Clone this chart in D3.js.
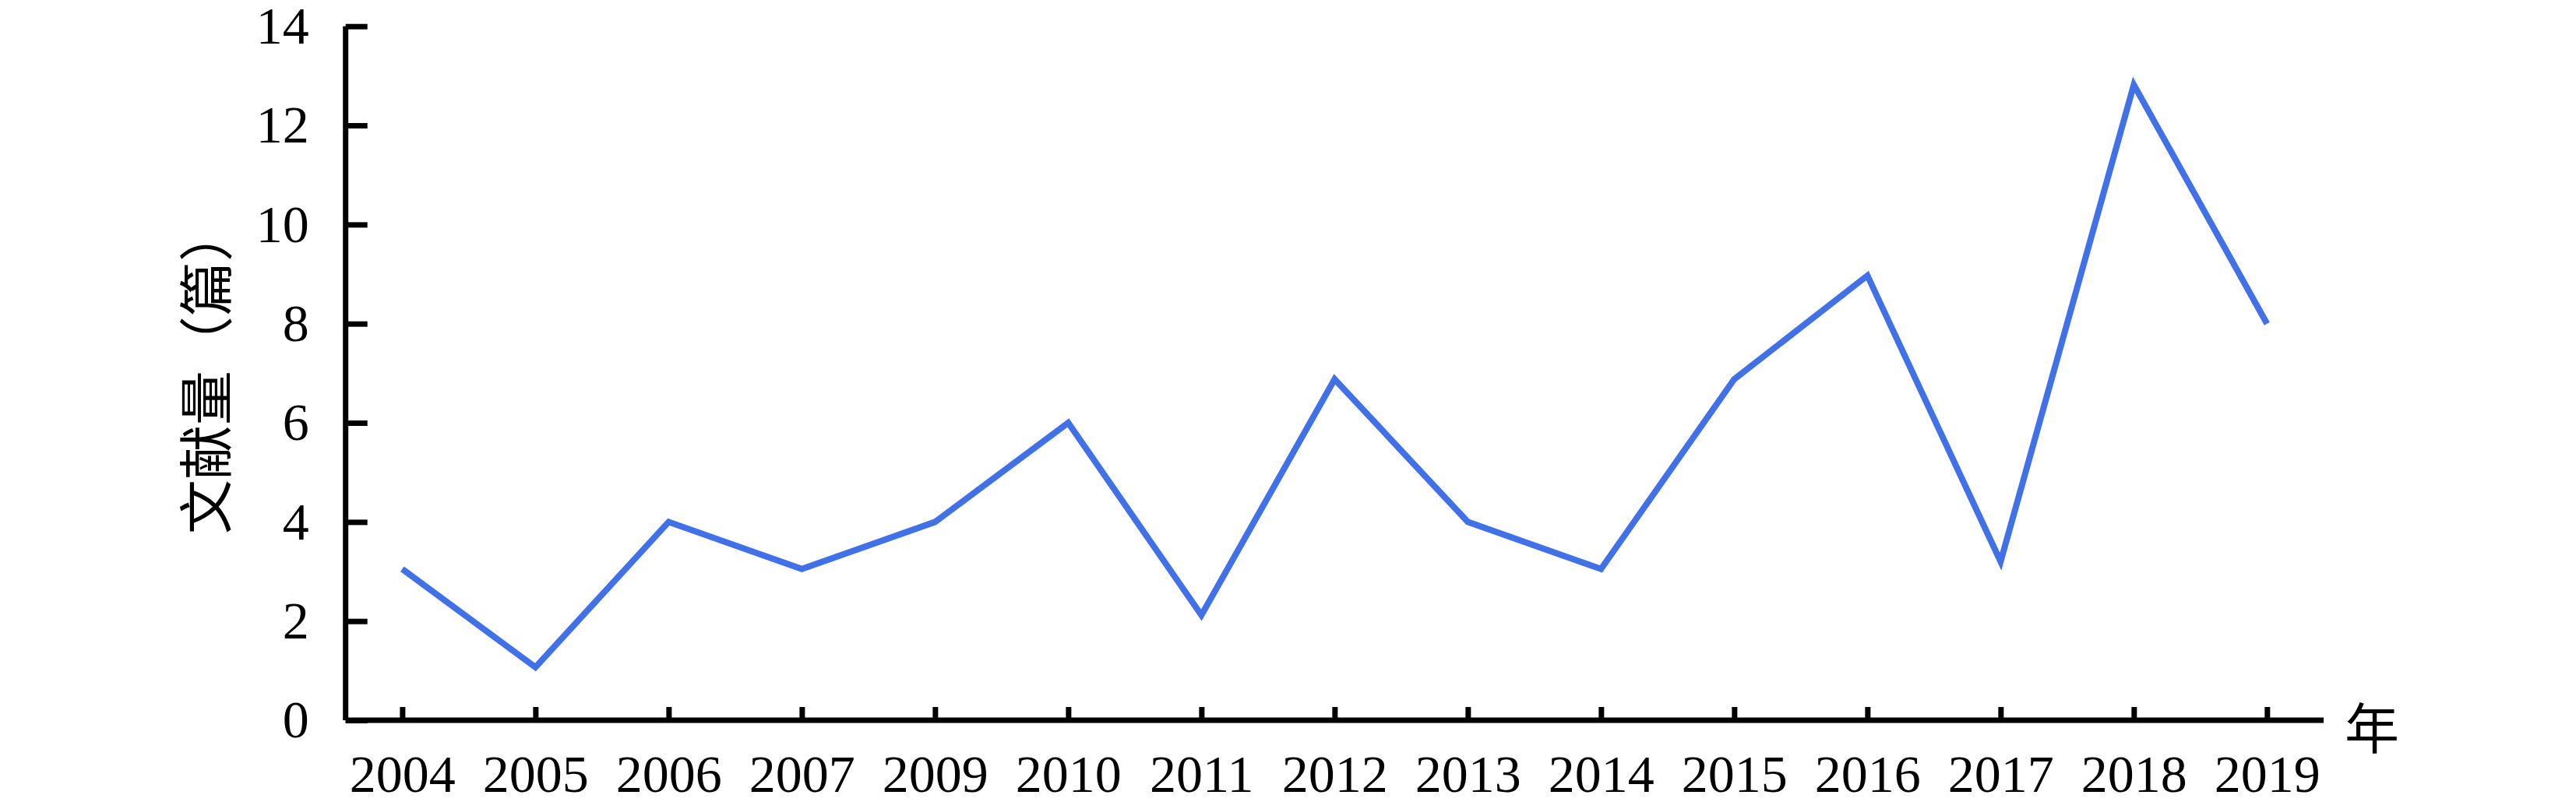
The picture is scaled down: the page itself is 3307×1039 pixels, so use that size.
<!DOCTYPE html>
<html>
<head>
<meta charset="utf-8">
<script src="https://cdn.jsdelivr.net/npm/d3@7"></script>
<style>
  html, body { margin: 0; padding: 0; background: #ffffff; }
  svg { display: block; }
</style>
</head>
<body>
<script>
// ---- data ----
const years = ["2004","2005","2006","2007","2009","2010","2011","2012","2013","2014","2015","2016","2017","2018","2019"];
const counts = [3.05, 1.07, 4, 3.05, 4, 6, 2.12, 6.88, 4, 3.05, 6.88, 8.97, 3.2, 12.82, 8];
const yTicks = [0, 2, 4, 6, 8, 10, 12, 14];
const yLabel = "文献量（篇）";
const xLabel = "年";

// ---- layout ----
const W = 3307, H = 1039;
const axisX = 443.7, axisY = 925, axisTop = 33.7, axisRight = 2983;
const lineColor = "#4171e8";
const numFont = "'Liberation Serif', 'Times New Roman', serif";
const cjkFont = "'Noto Sans CJK SC', sans-serif";

const svg = d3.select("body").append("svg")
  .attr("width", W).attr("height", H)
  .attr("viewBox", `0 0 ${W} ${H}`);
svg.append("rect").attr("width", W).attr("height", H).attr("fill", "#fff");

const x = d3.scalePoint().domain(years).range([axisX, axisRight]).padding(0.425);
const y = d3.scaleLinear().domain([0, 14]).range([axisY, axisTop]);

// X axis
const gx = svg.append("g")
  .attr("transform", `translate(0,${axisY})`)
  .call(d3.axisBottom(x).tickSizeInner(-17).tickSizeOuter(0).tickPadding(0));
gx.select(".domain").attr("stroke", "#000").attr("stroke-width", 7).attr("d", `M${axisX},0H${axisRight}`);
gx.selectAll(".tick line").attr("stroke", "#000").attr("stroke-width", 7);
gx.selectAll(".tick text")
  .attr("y", 92).attr("dy", 0)
  .attr("fill", "#000")
  .style("font-family", numFont).style("font-size", "68px");

// Y axis
const gy = svg.append("g")
  .attr("transform", `translate(${axisX},0)`)
  .call(d3.axisLeft(y).tickValues(yTicks).tickFormat(d3.format("d")).tickSizeInner(-28).tickSizeOuter(0).tickPadding(47));
gy.select(".domain").attr("stroke", "#000").attr("stroke-width", 7).attr("d", `M0,${axisY}V${axisTop}`);
gy.selectAll(".tick line").attr("stroke", "#000").attr("stroke-width", 7);
gy.selectAll(".tick text")
  .attr("fill", "#000")
  .style("font-family", numFont).style("font-size", "68px");

// Line
const line = d3.line()
  .x((d, i) => x(years[i]))
  .y(d => y(d));
svg.append("path")
  .datum(counts)
  .attr("d", line)
  .attr("fill", "none")
  .attr("stroke", lineColor)
  .attr("stroke-width", 8)
  .attr("stroke-linejoin", "miter")
  .attr("stroke-miterlimit", 10);

// Axis titles
svg.append("text")
  .attr("transform", "translate(291,476) rotate(-90)")
  .attr("text-anchor", "middle")
  .style("font-family", cjkFont).style("font-size", "70px")
  .attr("fill", "#000")
  .text(yLabel);

svg.append("text")
  .attr("x", 3010).attr("y", 962)
  .style("font-family", cjkFont).style("font-size", "70px")
  .attr("fill", "#000")
  .text(xLabel);
</script>
</body>
</html>
